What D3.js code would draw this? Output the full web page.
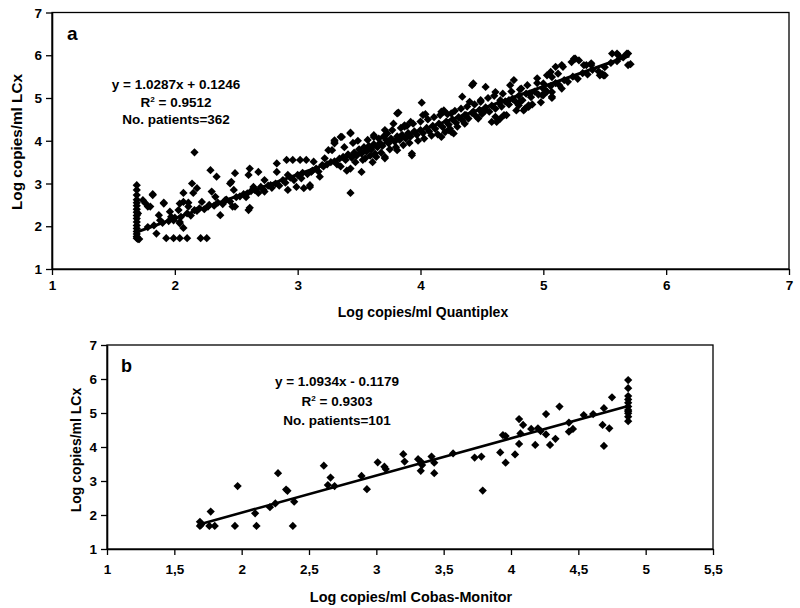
<!DOCTYPE html>
<html><head><meta charset="utf-8">
<script src="https://cdn.jsdelivr.net/npm/d3@7"></script>
<style>
body{margin:0;background:#fff;}
svg{display:block;}
text{font-family:"Liberation Sans",Arial,sans-serif;font-weight:bold;fill:#000;}
</style></head>
<body><svg id="c" width="800" height="608"></svg>
<script>
// ---------- DATA ----------
const ticksA = [1,2,3,4,5,6,7];
const tickLabelsA = ["1","2","3","4","5","6","7"];
const ticksBx = [1,1.5,2,2.5,3,3.5,4,4.5,5,5.5];
const tickLabelsBx = ["1","1,5","2","2,5","3","3,5","4","4,5","5","5,5"];
const ticksBy = [1,2,3,4,5,6,7];
const fitA = {slope:1.0287, intercept:0.1246, x0:1.7, x1:5.7};
const fitB = {slope:1.0934, intercept:-0.1179, x0:1.69, x1:4.87};
const textA = ["y = 1.0287x + 0.1246","R","No. patients=362"];
const r2A = "0.9512";
const textB = ["y = 1.0934x - 0.1179","R","No. patients=101"];
const r2B = "0.9303";

const pointsA = [
[1.69,2.96],[1.69,2.85],[1.69,2.73],[1.69,2.62],[1.69,2.55],[1.69,2.48],[1.69,2.40],[1.69,2.33],[1.69,2.25],[1.69,2.18],
[1.69,2.10],[1.69,2.02],[1.69,1.95],[1.69,1.88],[1.69,1.82],[1.69,1.76],[1.69,1.72],[1.70,1.70],[1.71,1.70],[1.70,2.30],
[1.74,2.61],[1.76,2.54],[1.78,2.46],[1.80,2.46],[1.82,2.73],[1.82,2.75],[1.85,1.83],[1.87,2.26],[1.88,2.14],[1.91,2.55],
[1.91,2.53],[1.93,1.72],[1.96,2.34],[1.97,2.22],[1.99,1.72],[1.99,2.14],[2.03,2.38],[2.04,1.72],[2.04,2.53],[2.04,2.07],
[2.04,2.10],[2.07,2.78],[2.07,2.57],[2.07,1.96],[2.10,1.72],[2.11,2.55],[2.11,2.46],[2.14,3.00],[2.15,2.78],[2.16,3.73],
[2.16,2.38],[2.18,2.89],[2.21,1.72],[2.22,2.57],[2.26,1.72],[2.27,2.46],[2.29,3.31],[2.30,2.81],[2.33,2.69],[2.34,3.16],
[2.37,2.26],[2.41,2.61],[2.45,3.00],[2.46,3.04],[2.47,2.46],[2.48,2.85],[2.49,3.24],[2.49,2.46],[2.59,2.77],[2.60,3.20],
[2.60,2.38],[2.61,3.35],[2.61,2.43],[2.64,2.92],[2.68,3.27],[2.73,3.08],[2.73,2.81],[2.78,2.96],[2.83,3.47],[2.83,3.27],
[2.91,3.55],[2.92,2.85],[2.92,3.20],[2.96,3.55],[2.99,2.92],[3.02,3.55],[3.03,3.12],[3.05,2.89],[3.07,3.55],[3.10,2.92],
[3.10,2.96],[3.11,3.27],[3.13,3.51],[3.18,3.16],[3.20,3.43],[3.22,3.59],[3.25,3.78],[3.28,3.78],[3.30,4.01],[3.30,3.94],
[3.30,3.97],[3.35,4.09],[3.36,4.09],[3.43,2.78],[3.43,3.35],[3.43,4.17],[3.43,4.19],[3.52,3.27],[3.55,3.59],[3.62,4.13],
[3.62,4.09],[3.63,3.70],[3.64,3.62],[3.71,3.62],[3.71,3.59],[3.71,4.25],[3.73,4.17],[3.78,4.40],[3.81,4.64],[3.82,4.66],
[3.81,3.78],[3.87,4.36],[3.87,4.33],[3.92,4.44],[3.93,3.70],[3.93,3.66],[4.01,4.89],[4.02,4.60],[4.04,4.62],[4.17,4.09],
[4.17,4.68],[4.19,4.68],[4.19,4.71],[4.25,4.21],[4.25,4.64],[4.27,4.17],[4.23,4.25],[4.30,4.33],[4.34,5.03],[4.36,4.60],
[4.36,4.40],[4.40,4.91],[4.42,5.30],[4.43,5.34],[4.43,4.68],[4.47,4.52],[4.49,4.91],[4.53,5.26],[4.53,4.71],[4.58,4.44],
[4.61,5.14],[4.61,4.56],[4.62,4.44],[4.65,4.95],[4.65,4.52],[4.68,4.60],[4.70,4.60],[4.72,4.95],[4.73,5.30],[4.76,5.42],
[4.78,4.71],[4.80,4.83],[4.81,4.91],[4.82,5.22],[4.84,4.71],[4.85,4.75],[4.88,4.83],[4.88,4.79],[4.89,5.10],[4.95,5.46],
[4.99,5.07],[5.00,5.07],[5.00,5.34],[5.01,5.20],[5.03,5.53],[5.06,5.61],[5.07,5.49],[5.07,5.03],[5.07,5.14],[5.07,5.00],
[5.10,5.73],[5.12,5.57],[5.15,5.77],[5.15,5.22],[5.16,5.73],[5.23,5.84],[5.25,5.92],[5.26,5.92],[5.29,5.88],[5.33,5.77],
[5.35,5.77],[5.39,5.81],[5.39,5.77],[5.46,5.53],[5.48,5.56],[5.49,5.53],[5.50,5.53],[5.56,6.04],[5.60,6.04],[5.61,6.00],
[5.68,6.04],[5.69,6.04],[5.69,5.77],[5.71,5.79],
[1.78,1.98],[1.83,2.02],[1.90,2.08],[1.95,2.12],[2.00,2.20],[2.05,2.22],[2.10,2.30],[2.13,2.25],[2.18,2.36],[2.20,2.42],
[2.24,2.40],[2.28,2.50],[2.32,2.48],[2.35,2.55],[2.39,2.52],[2.42,2.62],[2.45,2.58],[2.50,2.68],[2.53,2.70],[2.56,2.75],
[2.58,2.68],[2.62,2.82],[2.65,2.85],[2.68,2.78],[2.70,2.92],[2.72,2.86],[2.76,2.95],[2.79,2.90],[2.82,3.00],[2.85,2.95],
[2.88,3.08],[2.90,3.02],[2.94,3.14],[2.97,3.08],[3.00,3.20],[3.04,3.25],[3.08,3.22],[3.12,3.30],[3.15,3.35],[3.17,3.28],
[3.21,3.40],[3.24,3.45],[3.27,3.50],[3.30,3.52],[3.32,3.45],[3.34,3.58],[3.37,3.62],[3.39,3.55],[3.41,3.68],[3.44,3.60],
[3.46,3.72],[3.48,3.65],[3.50,3.80],[3.52,3.70],[3.54,3.85],[3.56,3.75],[3.58,3.88],[3.60,3.80],[3.62,3.92],[3.65,3.85],
[3.67,3.95],[3.69,3.88],[3.72,4.02],[3.74,3.94],[3.76,4.05],[3.79,3.98],[3.81,4.10],[3.83,4.02],[3.85,4.14],[3.88,4.05],
[3.90,4.18],[3.92,4.10],[3.95,4.22],[3.97,4.14],[4.00,4.25],[4.02,4.18],[4.05,4.30],[4.07,4.22],[4.10,4.35],[4.12,4.28],
[4.15,4.40],[4.18,4.32],[4.21,4.45],[4.23,4.38],[4.26,4.50],[4.29,4.42],[4.31,4.55],[4.34,4.48],[4.37,4.60],[4.39,4.52],
[4.42,4.65],[4.45,4.58],[4.48,4.72],[4.50,4.62],[4.53,4.78],[4.56,4.68],[4.58,4.82],[4.61,4.75],[4.64,4.88],[4.66,4.80],
[4.69,4.92],[4.72,4.85],[4.75,4.98],[4.78,4.90],[4.80,5.05],[4.83,4.95],[4.86,5.10],[4.90,5.02],[4.93,5.15],[4.96,5.08],
[5.00,5.22],[5.03,5.15],[5.06,5.28],[5.10,5.35],[5.13,5.30],[5.17,5.42],[5.20,5.38],[5.24,5.50],[5.28,5.45],[5.32,5.58],
[5.36,5.55],[5.40,5.66],[5.45,5.62],[5.50,5.72],[5.55,5.82],[5.60,5.86],[5.65,5.95],
[3.35,3.40],[3.38,3.85],[3.40,3.30],[3.45,3.95],[3.47,3.50],[3.49,4.00],[3.53,3.55],[3.57,4.02],[3.59,3.65],[3.61,3.50],
[3.66,4.05],[3.68,3.72],[3.70,4.10],[3.75,3.80],[3.77,4.25],[3.80,3.85],[3.84,4.30],[3.86,3.90],[3.89,4.35],[3.91,3.95],
[3.94,4.40],[3.98,4.00],[4.00,4.45],[4.03,4.05],[4.06,4.50],[4.09,4.12],[4.11,4.55],[4.14,4.15],[4.16,4.60],[4.20,4.20],
[4.22,4.62],[4.24,4.28],[4.28,4.70],[4.33,4.75],[4.38,4.80],[4.44,4.85],[4.49,4.95],[4.55,5.00],[4.60,5.05],[4.67,5.10],
[4.74,5.15],[4.81,5.20],[4.87,5.30],[4.91,4.85],[4.95,5.35],[4.98,4.90]
];

const pointsB = [
[1.69,1.80],[1.69,1.68],[1.70,1.72],[1.76,1.68],[1.80,1.68],[1.77,2.10],[1.95,1.68],[1.97,2.85],[2.10,2.05],[2.11,1.68],
[2.21,2.23],[2.25,2.34],[2.27,3.23],[2.33,2.75],[2.34,2.71],[2.38,1.68],[2.39,2.39],[2.61,3.45],[2.64,2.88],[2.66,3.10],
[2.69,2.85],[2.89,3.15],[2.93,2.76],[3.01,3.55],[3.06,3.42],[3.07,3.35],[3.20,3.79],[3.21,3.57],[3.31,3.64],[3.33,3.57],
[3.33,3.30],[3.34,3.47],[3.41,3.72],[3.43,3.54],[3.43,3.23],[3.57,3.81],[3.73,3.69],[3.78,3.72],[3.79,2.72],[3.92,3.84],
[3.94,4.35],[3.96,4.32],[3.96,3.54],[4.03,3.78],[4.06,4.82],[4.06,4.09],[4.07,4.40],[4.09,4.65],[4.15,4.53],[4.18,4.06],
[4.20,4.55],[4.22,4.47],[4.26,4.97],[4.26,4.37],[4.29,4.06],[4.33,4.24],[4.36,5.19],[4.43,4.45],[4.43,4.72],[4.46,4.53],
[4.54,4.94],[4.61,4.97],[4.68,4.65],[4.69,4.03],[4.69,5.14],[4.73,4.55],[4.75,5.46],[4.87,5.97],[4.87,5.73],[4.87,5.50],
[4.87,5.40],[4.87,5.19],[4.87,5.09],[4.87,4.99],[4.87,4.89],[4.87,4.76],[4.87,5.05],[4.87,5.30]
];

// ---------- DRAW ----------
const svg = d3.select("#c");
const diamond = {draw(ctx,size){const r=Math.sqrt(size/2);ctx.moveTo(0,-r);ctx.lineTo(r,0);ctx.lineTo(0,r);ctx.lineTo(-r,0);ctx.closePath();}};

function panel(cfg){
  const g = svg.append("g");
  const x = d3.scaleLinear().domain(cfg.xd).range(cfg.xr);
  const y = d3.scaleLinear().domain(cfg.yd).range(cfg.yr);
  g.append("rect").attr("x",cfg.xr[0]).attr("y",cfg.yr[1]).attr("width",cfg.xr[1]-cfg.xr[0]).attr("height",cfg.yr[0]-cfg.yr[1])
    .attr("fill","none").attr("stroke","#000").attr("stroke-width",1.3);
  const xa = g.append("g").attr("transform",`translate(0,${cfg.yr[0]})`)
    .call(d3.axisBottom(x).tickValues(cfg.xt).tickFormat((d,i)=>cfg.xl[i]).tickSize(6).tickSizeOuter(0));
  const ya = g.append("g").attr("transform",`translate(${cfg.xr[0]},0)`)
    .call(d3.axisLeft(y).tickValues(cfg.yt).tickFormat(d3.format("d")).tickSize(6).tickSizeOuter(0));
  [xa,ya].forEach(a=>{a.select(".domain").attr("stroke-width",1.6);a.selectAll(".tick line").attr("stroke-width",1.3);
     a.selectAll("text").style("font-size",cfg.tfs+"px").style("font-family","'Liberation Sans',Arial,sans-serif").style("font-weight","bold");});
  xa.selectAll("text").attr("dy",null).attr("y",cfg.xty);
  ya.selectAll("text").attr("x",-cfg.ytx).attr("dy","0.35em");
  g.append("g").selectAll("path").data(cfg.pts).join("path")
    .attr("transform",d=>`translate(${x(d[0])},${y(d[1])})`)
    .attr("d",d3.symbol().type(diamond).size(cfg.ms)).attr("fill","#000");
  const f = cfg.fit;
  g.append("line").attr("x1",x(f.x0)).attr("y1",y(f.slope*f.x0+f.intercept))
    .attr("x2",x(f.x1)).attr("y2",y(f.slope*f.x1+f.intercept)).attr("stroke","#000").attr("stroke-width",cfg.lw);
  g.append("text").attr("x",cfg.lab[0]).attr("y",cfg.lab[1]).style("font-size",cfg.labfs+"px").text(cfg.letter);
  const t = cfg.txt;
  g.append("text").attr("x",t.cx).attr("y",t.y[0]).attr("text-anchor","middle").style("font-size",t.fs+"px").text(cfg.eq[0]);
  const r = g.append("text").attr("x",t.cx).attr("y",t.y[1]).attr("text-anchor","middle").style("font-size",t.fs+"px");
  r.append("tspan").text("R");
  r.append("tspan").attr("dy",-5).style("font-size",(t.fs*0.6)+"px").text("2");
  r.append("tspan").attr("dy",5).text(" = "+cfg.r2);
  g.append("text").attr("x",t.cx).attr("y",t.y[2]).attr("text-anchor","middle").style("font-size",t.fs+"px").text(cfg.eq[2]);
  g.append("text").attr("x",cfg.xtitle[0]).attr("y",cfg.xtitle[1]).attr("text-anchor","middle").style("font-size",cfg.xtfs+"px").text(cfg.xtitleText);
  g.append("text").attr("transform",`translate(${cfg.ytitle[0]},${cfg.ytitle[1]}) rotate(-90)`).attr("text-anchor","middle")
    .style("font-size",cfg.ytfs+"px").text("Log copies/ml LCx");
}

panel({xd:[1,7],xr:[52,789],yd:[1,7],yr:[269,12.5],xt:ticksA,xl:tickLabelsA,yt:ticksA,tfs:13.5,xty:21,ytx:10,
  pts:pointsA,ms:34,fit:fitA,lw:3,lab:[67,40],labfs:19,letter:"a",eq:textA,r2:r2A,
  txt:{cx:176,y:[89,107,124],fs:13.5},xtitle:[423,317],xtfs:14,xtitleText:"Log copies/ml Quantiplex",ytitle:[22,142],ytfs:15.3});

panel({xd:[1,5.5],xr:[107,713],yd:[1,7],yr:[549,345],xt:ticksBx,xl:tickLabelsBx,yt:ticksBy,tfs:13.5,xty:25,ytx:10,
  pts:pointsB,ms:34,fit:fitB,lw:2.6,lab:[121,372],labfs:18,letter:"b",eq:textB,r2:r2B,
  txt:{cx:337,y:[386,406,425],fs:13.5},xtitle:[411,602],xtfs:14.4,xtitleText:"Log copies/ml Cobas-Monitor",ytitle:[81,450],ytfs:14});
</script></body></html>
